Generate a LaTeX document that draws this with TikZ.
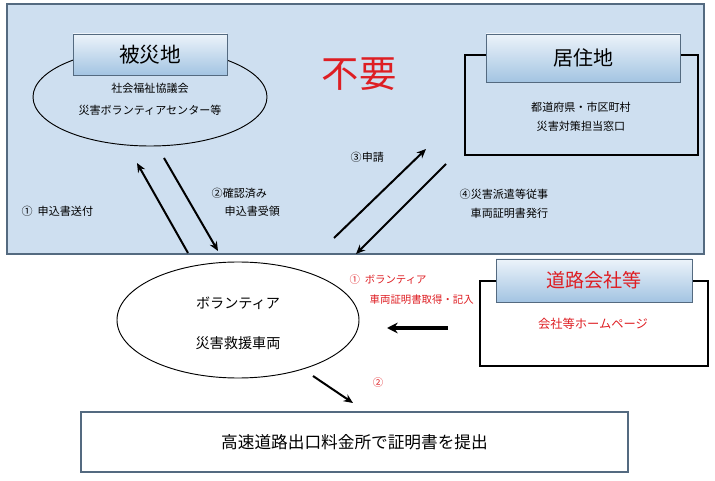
\documentclass[tikz,border=0pt]{standalone}
\usepackage{fontspec}
\setmainfont{Noto Sans CJK JP}
\usetikzlibrary{arrows.meta,shapes.geometric}
\definecolor{panelfill}{RGB}{206,223,240}
\definecolor{panelline}{RGB}{84,106,128}
\definecolor{headtop}{RGB}{236,243,250}
\definecolor{headbot}{RGB}{163,196,226}
\definecolor{redtxt}{RGB}{222,30,35}
\tikzset{
  header/.style={draw=panelline, line width=0.6pt, top color=headtop, bottom color=headbot, minimum height=#1},
  bodybox/.style={draw=black, line width=0.8pt},
  flow/.style={line width=1.5pt, -{Stealth[length=7pt,width=6pt]}},
  small/.style={font=\fontsize{8.3pt}{10pt}\selectfont},
  redsmall/.style={font=\fontsize{7.8pt}{10pt}\selectfont, text=redtxt},
}
\begin{document}
\begin{tikzpicture}[x=0.75pt,y=-0.75pt]
\useasboundingbox (0,0) rectangle (715,481);
% blue panel
\draw[panelline, fill=panelfill, line width=0.8pt] (7,4) rectangle (704,254);
% hisaichi ellipse
\draw[line width=0.7pt] (150,97) ellipse [x radius=117, y radius=49];
\node[header=41*0.75pt, minimum width=154*0.75pt, inner sep=0pt] (hisai) at (150,54.5) {\fontsize{15.5pt}{18pt}\selectfont 被災地};
\node[small] (hisai1) at (150,88) {社会福祉協議会};
\node[small] (hisai2) at (150,110) {災害ボランティアセンター等};
% fuyou
\node[text=redtxt, font=\fontsize{28pt}{32pt}\selectfont] (fuyou) at (359,74) {不要};
% kyojuchi
\draw[bodybox] (465,55) rectangle (698,155);
\node[header=48*0.75pt, minimum width=194*0.75pt, inner sep=0pt] (kyoju) at (583,58) {\fontsize{15pt}{18pt}\selectfont 居住地};
\node[small] (kyoju1) at (581,107) {都道府県・市区町村};
\node[small] (kyoju2) at (581,126) {災害対策担当窓口};
% arrows left pair
\coordinate (a1s) at (188,253); \coordinate (a1e) at (137,163);
\coordinate (a2s) at (164,158); \coordinate (a2e) at (218,251);
\draw[flow] (a1s) -- (a1e);
\draw[flow] (a2s) -- (a2e);
\node[small, anchor=west] (l1) at (17,211) {①\ \ 申込書送付};
\node[small, anchor=west] (l2a) at (207,193) {②確認済み};
\node[small, anchor=west] (l2b) at (220,211) {申込書受領};
% arrows right pair
\coordinate (a3s) at (334,238); \coordinate (a3e) at (426,149);
\coordinate (a4s) at (446,164); \coordinate (a4e) at (356,254);
\draw[flow] (a3s) -- (a3e);
\draw[flow] (a4s) -- (a4e);
\node[small, anchor=west] (l3) at (346,157) {③申請};
\node[small, anchor=west] (l4a) at (455,194) {④災害派遣等従事};
\node[small, anchor=west] (l4b) at (466,213) {車両証明書発行};
% volunteer ellipse
\draw[line width=0.7pt] (238,320) ellipse [x radius=121, y radius=58];
\node[font=\fontsize{10.6pt}{12pt}\selectfont] (vol1) at (238,303) {ボランティア};
\node[font=\fontsize{10.6pt}{12pt}\selectfont] (vol2) at (238,343) {災害救援車両};
% road company
\draw[bodybox] (480,281) rectangle (708,366);
\node[header=43*0.75pt, minimum width=196*0.75pt, inner sep=0pt, text=redtxt] (road) at (594,280.5) {\fontsize{14.3pt}{17pt}\selectfont 道路会社等};
\node[font=\fontsize{9.2pt}{11pt}\selectfont, text=redtxt] (road1) at (593,324) {会社等ホームページ};
\coordinate (a5s) at (448,328); \coordinate (a5e) at (387,328);
\draw[flow, line width=2.6pt, -{Stealth[length=8pt,width=8pt]}] (a5s) -- (a5e);
\node[redsmall, anchor=west] (r1a) at (345,280) {①\ \ ボランティア};
\node[redsmall, anchor=west] (r1b) at (365,300) {車両証明書取得・記入};
% arrow 2
\coordinate (a6s) at (313,376); \coordinate (a6e) at (353,403);
\draw[flow] (a6s) -- (a6e);
\node[redsmall] (r2) at (378,383) {②};
% bottom box
\node[draw=panelline, line width=0.8pt, minimum width=547*0.75pt, minimum height=60*0.75pt, font=\fontsize{12.5pt}{15pt}\selectfont] (exit) at (354.5,442) {高速道路出口料金所で証明書を提出};
\end{tikzpicture}
\end{document}
